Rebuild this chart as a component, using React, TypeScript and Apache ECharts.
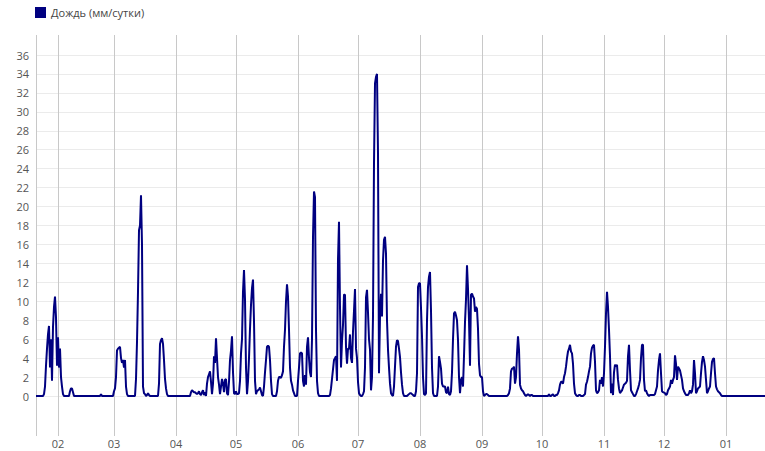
import React, { useEffect, useRef } from "react";
import * as echarts from "echarts";

const seriesName = "Дождь (мм/сутки)";

// rain values (mm/day), two readings per day (00h, 12h), one array per month
const rainJan2023 = [0, 0, 0, 0, 0, 0, 0, 0, 0.2, 1, 3.2, 5, 6.5, 7.4, 3, 6, 1.6, 7.3, 9.4, 10.5, 8.3, 3.2]; // from Jan 21
const rainFeb = [
  6.2, 3, 5, 2, 1, 0.2, 0, 0, 0, 0, 0, 0, 0.5, 0.8, 0.8, 0.4,
  0, 0, 0, 0, 0, 0, 0, 0, 0, 0, 0, 0, 0, 0, 0, 0, 0, 0, 0, 0, 0, 0, 0, 0, 0, 0, 0,
  0.2, 0, 0, 0, 0, 0, 0, 0, 0, 0, 0, 0, 0,
];
const rainMar = [
  0.5, 0.8, 2, 4.8, 5, 5.1, 5.2, 4, 3.5, 3.8, 3, 3.8, 1, 0.2,
  0, 0, 0, 0, 0, 0, 0, 0,
  1.8, 5.7, 11, 17.5, 18, 21.2, 16, 1, 0.3, 0.2, 0, 0.1, 0.3, 0.1,
  0, 0, 0, 0, 0, 0, 0, 0, 0,
  1.3, 5.5, 5.9, 6.1, 5.5, 3.8, 1.8, 0.8, 0.2,
  0, 0, 0, 0, 0, 0, 0, 0,
];
const rainApr = [
  0, 0, 0, 0, 0, 0, 0, 0, 0, 0, 0, 0, 0, 0, 0,
  0.4, 0.6, 0.5, 0.4, 0.4, 0.3, 0.2, 0.3, 0.5, 0.2, 0.1, 0.4, 0.6,
  0.1, 0.4, 0, 1.3, 2, 2.3, 2.6, 1.5, 0.2, 1.3, 4.2, 3.5, 6.1, 4, 2, 1.2, 0.2, 1, 1.8, 1.3,
  0.4, 1.7, 1.8, 0.3, 0.1, 1.5, 3.8, 4.8, 6.3, 2.5, 0.3, 0.2,
];
const rainMay = [
  0.5, 0.2, 0.2, 0.3, 1.6, 4.5, 6, 11, 13.3, 10.2,
  3, 0.2, 1.6, 4, 7.1, 9.6, 11.4, 12.3, 7.9, 1.6,
  0.2, 0.5, 0.6, 0.7, 0.9, 0.5, 0.1, 0, 1, 2.5,
  3.8, 5.2, 5.3, 5.2, 3.8, 1.6, 0.2, 0, 0, 0,
  0, 0.5, 1.6, 2, 2, 1.9, 2.2, 2.6, 5.2, 7,
  10, 11.8, 10.5, 7, 3, 1.6, 1.2, 0.6, 0.3, 0,
  0, 0,
];
const rainJun = [
  1.6, 3, 4.5, 4.6, 4.5, 1.6, 1, 2.2, 1.2, 5.2,
  6.2, 4, 2.5, 2, 6, 16.8, 21.6, 21, 7, 1.6,
  0.3, 0, 0, 0, 0, 0, 0, 0, 0, 0, 0, 0,
  0.1, 0.8, 1.8, 2.8, 3.8, 4, 4.2, 1.6,
  14.4, 18.4, 9.4, 3, 5.8, 7.5, 10.7, 10.7, 5.2, 3.4,
  5, 5, 6.5, 4, 3.5, 6.8, 9, 11.3, 5, 4,
];
const rainJul = [
  1.5, 0.3, 0.1, 0, 0, 0.2, 0.5, 3,
  10.4, 11.2, 8.8, 6, 4.9, 0.6, 2, 8.4, 24.6, 33,
  33.7, 34, 25.6, 2.4, 8.4, 10.8, 8.4, 14.3, 16.5, 16.8,
  15, 8, 4.9, 3, 1.3, 0.3, 0.1, 0, 1, 3.1,
  5.2, 5.9, 5.8, 5, 4.1, 2.5, 1.2, 0.3, 0, 0,
  0, 0, 0.1, 0.2, 0.3, 0.3, 0.2, 0.1, 0, 0,
  0.5, 2.4, 11.5, 11.9,
];
const rainAug = [
  11.9, 9.3, 6.3, 2, 0.2, 0.1, 0.3, 8, 11.5, 12.6,
  13.1, 9, 3, 0.3, 0, 0, 0, 0, 1, 4.2,
  3.6, 2.9, 1.3, 1, 1, 1, 0.4, 0.3, 1, 0.2,
  0.1, 0.5, 2.5, 6, 8.7, 8.9, 8.5, 8, 5.9, 2,
  0.3, 1.7, 2, 1, 4.2, 7.8, 10.2, 13.8, 11.3, 8,
  3.2, 10.7, 10.8, 10.5, 10.3, 8.9, 9.4, 9.2, 7.1, 3.4,
  2.2, 2,
];
const rainSep = [
  2, 0.5, 0, 0.1, 0.2, 0.2, 0.1,
  0, 0, 0, 0, 0, 0, 0, 0, 0, 0, 0, 0, 0, 0, 0, 0, 0, 0, 0,
  0.1, 0.3, 0.8, 2.6, 2.9, 2.9, 3.1, 1.3, 2, 4.5,
  6.3, 4.9, 1.2, 0.8, 0.6, 0.5, 0.3, 0.1, 0, 0.1,
  0.2, 0.1, 0, 0.1, 0.1,
  0, 0, 0, 0, 0, 0, 0, 0, 0,
];
const rainOct = [
  0, 0, 0, 0, 0, 0, 0,
  0.2, 0, 0, 0.1, 0.2, 0, 0, 0.1, 0.1, 0.3,
  0.6, 1.2, 1.5, 1.5, 1.3, 2, 2.4, 3.1, 4, 4.7,
  5, 5.4, 4.7, 4.5, 3.4, 1.3, 0.3, 0.1, 0, 0,
  0.1, 0.1, 0, 0, 0, 0.1, 0.2, 1.2, 1.5, 2,
  2.6, 3.1, 4.5, 5.1, 5.3, 5.4, 3.6, 0.6, 0.3, 0.4,
  0.6, 1.7, 1.3, 2, 1,
];
const rainNov = [
  2.4, 5.2, 8.7, 11, 9.4, 7, 4.2, 0.3, 1.3, 0.1,
  2.5, 3.3, 3.1, 3.3, 1.7, 0.8, 0.3, 0.45, 0.6, 0.9,
  1.2, 1.3, 1.4, 1.6, 4.2, 5.4, 2.7, 0.6, 0.4, 0.2,
  0, 0, 0.2, 0.5, 0.8, 1.2, 1.7, 4, 5.4, 5.4,
  1.7, 0.5, 0.6, 0.3, 0.1, 0, 0.1, 0.1, 0.1, 0.1,
  0.1, 0.2, 0.6, 1, 2.7, 3.8, 4.5, 2.4, 0.5, 0.4,
];
const rainDec = [
  0.35, 0.3, 0.1, 0.2, 0.6, 0.8, 1, 1.7, 1.3, 1.7,
  2, 4.3, 3.4, 1.7, 3.1, 2.9, 2.7, 2.2, 1.7, 0.8,
  0.5, 0.3, 0.1, 0.1, 0.1, 0.3, 0.6, 0.3, 0.5, 1.2,
  3.8, 2.4, 0.3, 0.5, 0.8, 0.9, 1, 2.4, 3.6, 4.2,
  3.8, 3.1, 1.7, 0.3, 0.5, 0.8, 1, 2.4, 3.6, 3.9,
  4, 2.4, 1, 0.7, 0.5, 0.4, 0.3, 0.1, 0, 0,
  0, 0,
];
const rainJan2024 = [
  0, 0, 0, 0, 0, 0, 0, 0, 0, 0, 0, 0, 0, 0, 0, 0, 0, 0, 0, 0,
  0, 0, 0, 0, 0, 0, 0, 0, 0, 0, 0, 0, 0, 0, 0, 0, 0, 0, 0, 0,
];

const monthBlocks: [number, number, number, number[]][] = [
  [2023, 0, 21, rainJan2023],
  [2023, 1, 1, rainFeb],
  [2023, 2, 1, rainMar],
  [2023, 3, 1, rainApr],
  [2023, 4, 1, rainMay],
  [2023, 5, 1, rainJun],
  [2023, 6, 1, rainJul],
  [2023, 7, 1, rainAug],
  [2023, 8, 1, rainSep],
  [2023, 9, 1, rainOct],
  [2023, 10, 1, rainNov],
  [2023, 11, 1, rainDec],
  [2024, 0, 1, rainJan2024],
];

const yMin = 0;
const yMax = 36;
const yStep = 2;
const hoursPerReading = 12;

export default function App() {
  const ref = useRef<HTMLDivElement>(null);
  useEffect(() => {
    if (!ref.current) return;
    const chart = echarts.init(ref.current, undefined, { renderer: "svg" });
    const data: [number, number][] = [];
    monthBlocks.forEach(([y, m, d0, vals]) => {
      vals.forEach((v, i) => data.push([new Date(y, m, d0, i * hoursPerReading).getTime(), v]));
    });
    const xMin = new Date(2023, 0, 21).getTime();
    const xMax = new Date(2024, 0, 20, 12).getTime();
    const day = 86400000;
    const font = "'Open Sans', 'Noto Sans', sans-serif";
    chart.setOption({
      animation: false,
      legend: {
        data: [seriesName],
        left: 35,
        top: 7,
        padding: 0,
        icon: "rect",
        itemWidth: 11,
        itemHeight: 11,
        itemGap: 5,
        textStyle: { fontFamily: font, fontSize: 11, color: "#444" },
      },
      grid: [
        { left: 36, right: 0, top: 35, bottom: 15 },
        { left: 36, right: 0, top: 55, bottom: 55 },
      ],
      xAxis: [
        {
          type: "time",
          gridIndex: 0,
          min: xMin,
          max: xMax,
          minInterval: 28 * day,
          maxInterval: 31 * day,
          axisLine: { show: false },
          axisTick: { show: false },
          splitLine: { show: true, lineStyle: { color: "#c8c8c8", width: 1 } },
          axisLabel: {
            margin: 2,
            color: "#555",
            fontSize: 11,
            fontFamily: font,
            formatter: (val: number) => {
              const d = new Date(val);
              const mm = d.getMonth() + 1;
              return (mm < 10 ? "0" : "") + mm;
            },
          },
        },
        { type: "time", gridIndex: 1, min: xMin, max: xMax, show: false },
      ],
      yAxis: [
        { type: "value", gridIndex: 0, show: false, min: 0, max: 1, splitLine: { show: false } },
        {
          type: "value",
          gridIndex: 1,
          min: yMin,
          max: yMax,
          interval: yStep,
          axisLine: { show: false },
          axisTick: { show: false },
          splitLine: { show: true, lineStyle: { color: "#ebebeb", width: 1 } },
          axisLabel: { margin: 7, color: "#555", fontSize: 11, fontFamily: font },
        },
      ],
      series: [
        {
          name: seriesName,
          type: "line",
          xAxisIndex: 1,
          yAxisIndex: 1,
          data,
          symbol: "none",
          showSymbol: false,
          lineStyle: { width: 2, color: "#000080" },
          itemStyle: { color: "#000080" },
        },
      ],
    });
    return () => chart.dispose();
  }, []);
  return <div ref={ref} style={{ width: 765, height: 451, position: "absolute", left: 0, top: 0 }} />;
}
